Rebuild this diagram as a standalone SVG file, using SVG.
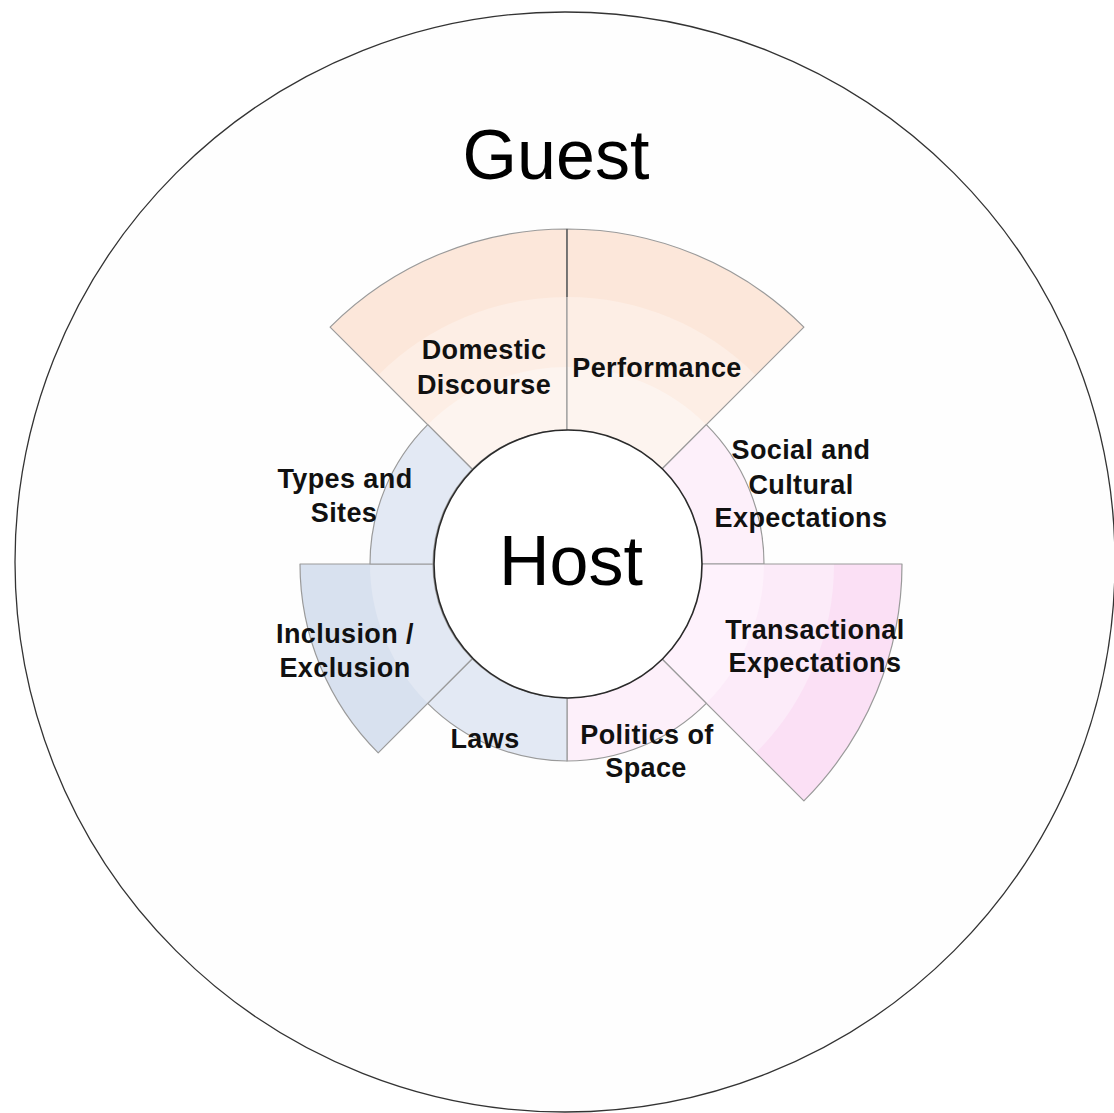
<svg xmlns="http://www.w3.org/2000/svg" width="1114" height="1113" viewBox="0 0 1114 1113">
  <style>
    .edge { fill: none; stroke: #9a9a9a; stroke-width: 1.2; stroke-linejoin: round; }
    .lbl { font-family: "Liberation Sans", Arial, Helvetica, sans-serif; font-weight: bold; font-size: 27px; letter-spacing: 0.4px; fill: #111; text-anchor: middle; }
    .big { font-family: "Liberation Sans", Arial, Helvetica, sans-serif; font-size: 70px; fill: #000; text-anchor: middle; }
    .peach3 { fill: #fce7da; } .peach2 { fill: #fdeee5; } .peach1 { fill: #fdf4ef; }
    .pink3 { fill: #fbe0f5; } .pink2 { fill: #fcebf9; } .pink1 { fill: #fef2fc; }
    .pinkS { fill: #fdf0fa; }
    .blue2 { fill: #d8e1ef; } .blue1 { fill: #e2e8f3; } .blueS { fill: #e3e9f4; }
  </style>

  <rect x="0" y="0" width="1114" height="1113" fill="#ffffff"/>

  <!-- Guest: outer circle -->
  <g id="guest">
    <circle cx="565" cy="562" r="550" fill="#fefefe" stroke="#333" stroke-width="1.3"/>
    <text class="big" x="556" y="179">Guest</text>
  </g>

  <!-- Segments around the host; centre (567,564), radii 134 / 197 / 267 / 335 -->
  <g id="domestic-discourse">
    <path class="peach3" d="M330.1,327.1 A335,335 0 0 1 567,229 L567,430 A134,134 0 0 0 472.25,469.25 Z"/>
    <path class="peach2" d="M378.2,375.2 A267,267 0 0 1 567,297 L567,430 A134,134 0 0 0 472.25,469.25 Z"/>
    <path class="peach1" d="M427.7,424.7 A197,197 0 0 1 567,367 L567,430 A134,134 0 0 0 472.25,469.25 Z"/>
    <path class="edge" d="M330.1,327.1 A335,335 0 0 1 567,229 L567,430 A134,134 0 0 0 472.25,469.25 Z"/>
    <text class="lbl" x="484" y="359">Domestic</text>
    <text class="lbl" x="484" y="394">Discourse</text>
  </g>

  <g id="performance">
    <path class="peach3" d="M567,229 A335,335 0 0 1 803.9,327.1 L661.75,469.25 A134,134 0 0 0 567,430 Z"/>
    <path class="peach2" d="M567,297 A267,267 0 0 1 755.8,375.2 L661.75,469.25 A134,134 0 0 0 567,430 Z"/>
    <path class="peach1" d="M567,367 A197,197 0 0 1 706.3,424.7 L661.75,469.25 A134,134 0 0 0 567,430 Z"/>
    <path class="edge" d="M567,229 A335,335 0 0 1 803.9,327.1 L661.75,469.25 A134,134 0 0 0 567,430 Z"/>
    <text class="lbl" x="657" y="377">Performance</text>
  </g>

  <g id="social-cultural-expectations">
    <path class="pinkS" d="M706.3,424.7 A197,197 0 0 1 764,564 L701,564 A134,134 0 0 0 661.75,469.25 Z"/>
    <path class="edge" d="M706.3,424.7 A197,197 0 0 1 764,564 L701,564 A134,134 0 0 0 661.75,469.25 Z"/>
    <text class="lbl" x="801" y="459">Social and</text>
    <text class="lbl" x="801" y="494">Cultural</text>
    <text class="lbl" x="801" y="527">Expectations</text>
  </g>

  <g id="transactional-expectations">
    <path class="pink3" d="M902,564 A335,335 0 0 1 803.9,800.9 L661.75,658.75 A134,134 0 0 0 701,564 Z"/>
    <path class="pink2" d="M834,564 A267,267 0 0 1 755.8,752.8 L661.75,658.75 A134,134 0 0 0 701,564 Z"/>
    <path class="pink1" d="M764,564 A197,197 0 0 1 706.3,703.3 L661.75,658.75 A134,134 0 0 0 701,564 Z"/>
    <path class="edge" d="M902,564 A335,335 0 0 1 803.9,800.9 L661.75,658.75 A134,134 0 0 0 701,564 Z"/>
    <text class="lbl" x="815" y="639">Transactional</text>
    <text class="lbl" x="815" y="672">Expectations</text>
  </g>

  <g id="politics-of-space">
    <path class="pinkS" d="M706.3,703.3 A197,197 0 0 1 567,761 L567,698 A134,134 0 0 0 661.75,658.75 Z"/>
    <path class="edge" d="M706.3,703.3 A197,197 0 0 1 567,761 L567,698 A134,134 0 0 0 661.75,658.75 Z"/>
    <text class="lbl" x="647" y="744">Politics of</text>
    <text class="lbl" x="646" y="777">Space</text>
  </g>

  <g id="laws">
    <path class="blueS" d="M567,761 A197,197 0 0 1 427.7,703.3 L472.25,658.75 A134,134 0 0 0 567,698 Z"/>
    <path class="edge" d="M567,761 A197,197 0 0 1 427.7,703.3 L472.25,658.75 A134,134 0 0 0 567,698 Z"/>
    <text class="lbl" x="485" y="748">Laws</text>
  </g>

  <g id="inclusion-exclusion">
    <path class="blue2" d="M378.2,752.8 A267,267 0 0 1 300,564 L433,564 A134,134 0 0 0 472.25,658.75 Z"/>
    <path class="blue1" d="M427.7,703.3 A197,197 0 0 1 370,564 L433,564 A134,134 0 0 0 472.25,658.75 Z"/>
    <path class="edge" d="M378.2,752.8 A267,267 0 0 1 300,564 L433,564 A134,134 0 0 0 472.25,658.75 Z"/>
    <text class="lbl" x="345" y="643">Inclusion /</text>
    <text class="lbl" x="345" y="677">Exclusion</text>
  </g>

  <g id="types-and-sites">
    <path class="blueS" d="M370,564 A197,197 0 0 1 427.7,424.7 L472.25,469.25 A134,134 0 0 0 433,564 Z"/>
    <path class="edge" d="M370,564 A197,197 0 0 1 427.7,424.7 L472.25,469.25 A134,134 0 0 0 433,564 Z"/>
    <text class="lbl" x="345" y="488">Types and</text>
    <text class="lbl" x="344" y="522">Sites</text>
  </g>

  <!-- darker upper part of the top divider -->
  <line x1="567" y1="229" x2="567" y2="297" stroke="#555" stroke-width="1.3"/>

  <!-- Host: centre circle -->
  <g id="host">
    <circle cx="568" cy="564" r="134" fill="#ffffff" stroke="#2a2a2a" stroke-width="1.6"/>
    <text class="big" x="571" y="585">Host</text>
  </g>
</svg>
